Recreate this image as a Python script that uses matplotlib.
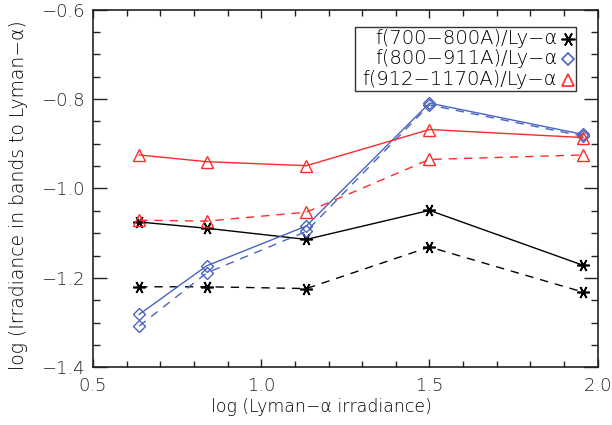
import matplotlib
matplotlib.use("Agg")
import matplotlib.pyplot as plt
from matplotlib.ticker import MultipleLocator, FuncFormatter
from matplotlib.transforms import IdentityTransform

# log Lyman-alpha irradiance at the five sample points
lya = [0.637, 0.838, 1.134, 1.500, 1.957]

# band-to-Lyman-alpha ratios (log), two sets each (solid / dashed)
r700_solid = [-1.075, -1.089, -1.114, -1.049, -1.172]
r700_dash = [-1.220, -1.220, -1.224, -1.131, -1.232]
r800_solid = [-1.282, -1.173, -1.084, -0.809, -0.879]
r800_dash = [-1.308, -1.189, -1.096, -0.813, -0.883]
r912_solid = [-0.925, -0.940, -0.949, -0.868, -0.886]
r912_dash = [-1.071, -1.073, -1.053, -0.935, -0.925]

labels = ["f(700\u2212800A)/Ly\u2212\u03b1",
          "f(800\u2212911A)/Ly\u2212\u03b1",
          "f(912\u22121170A)/Ly\u2212\u03b1"]

BLACK = "#000000"
BLUE = "#4a63c0"
RED = "#ff2a2a"

plt.rcParams["font.family"] = ["DejaVu Sans"]
plt.rcParams["font.weight"] = "light"
plt.rcParams["axes.labelweight"] = "light"

fig = plt.figure(figsize=(6.12, 4.25), dpi=100)
ax = fig.add_axes([0.152, 0.136, 0.8246, 0.841])

ASTER = (6, 2, 90)
DASH = (0, (6, 5))
lw = 1.0
ax.plot(lya, r700_solid, color=BLACK, lw=lw, ls="-", marker=ASTER, ms=9, mew=1.2)
ax.plot(lya, r700_dash, color=BLACK, lw=lw, ls=DASH, marker=ASTER, ms=9, mew=1.2)
ax.plot(lya, r800_solid, color=BLUE, lw=lw, ls="-", marker="D", ms=6, mfc="none", mew=1.0)
ax.plot(lya, r800_dash, color=BLUE, lw=lw, ls=DASH, marker="D", ms=6, mfc="none", mew=1.0)
ax.plot(lya, r912_solid, color=RED, lw=lw, ls="-", marker="^", ms=9, mfc="none", mew=1.0)
ax.plot(lya, r912_dash, color=RED, lw=lw, ls=DASH, marker="^", ms=9, mfc="none", mew=1.0)

ax.set_xlim(0.5, 2.0)
ax.set_ylim(-1.4, -0.6)
ax.xaxis.set_major_locator(MultipleLocator(0.5))
ax.xaxis.set_minor_locator(MultipleLocator(0.1))
ax.yaxis.set_major_locator(MultipleLocator(0.2))
ax.yaxis.set_minor_locator(MultipleLocator(0.05))
fmt = FuncFormatter(lambda v, p: f"{v:.1f}".replace("-", "\u2212"))
ax.xaxis.set_major_formatter(fmt)
ax.yaxis.set_major_formatter(fmt)

ax.tick_params(axis="both", which="both", direction="in", top=True, right=True,
               labelsize=13, colors="#222222", width=1.0)
ax.tick_params(axis="x", which="major", length=6, pad=7)
ax.tick_params(axis="x", which="minor", length=4)
ax.tick_params(axis="y", which="major", length=10, pad=6)
ax.tick_params(axis="y", which="minor", length=5)
for s in ax.spines.values():
    s.set_linewidth(1.2)
    s.set_color("#222222")

ax.set_xlabel("log (Lyman\u2212\u03b1 irradiance)", fontsize=12.5)
ax.xaxis.set_label_coords(0.452, -0.085)
ax.set_ylabel("log (Irradiance in bands to Lyman\u2212\u03b1)", fontsize=13.5)
ax.yaxis.set_label_coords(-0.128, 0.48)

# legend box with right-aligned labels and marker symbols on the right
box = plt.Rectangle((355, 425 - 90.7), 221, 63.4, transform=None,
                    fill=False, ec="#333333", lw=1.0)
fig.add_artist(box)
markers = [(ASTER, BLACK, 10, BLACK), ("D", BLUE, 6.5, "none"), ("^", RED, 9, "none")]
for i, (lab, (m, c, ms, fc)) in enumerate(zip(labels, markers)):
    yp = 425 - (38.5 + i * 20.5)
    fig.text(557 / 612, yp / 425, lab, ha="right", va="center", fontsize=14)
    ln, = ax.plot([568], [yp], marker=m, color=c, ms=ms, mfc=fc, mew=1.2,
                  clip_on=False)
    ln.set_transform(IdentityTransform())

fig.savefig("out.png", dpi=100)
